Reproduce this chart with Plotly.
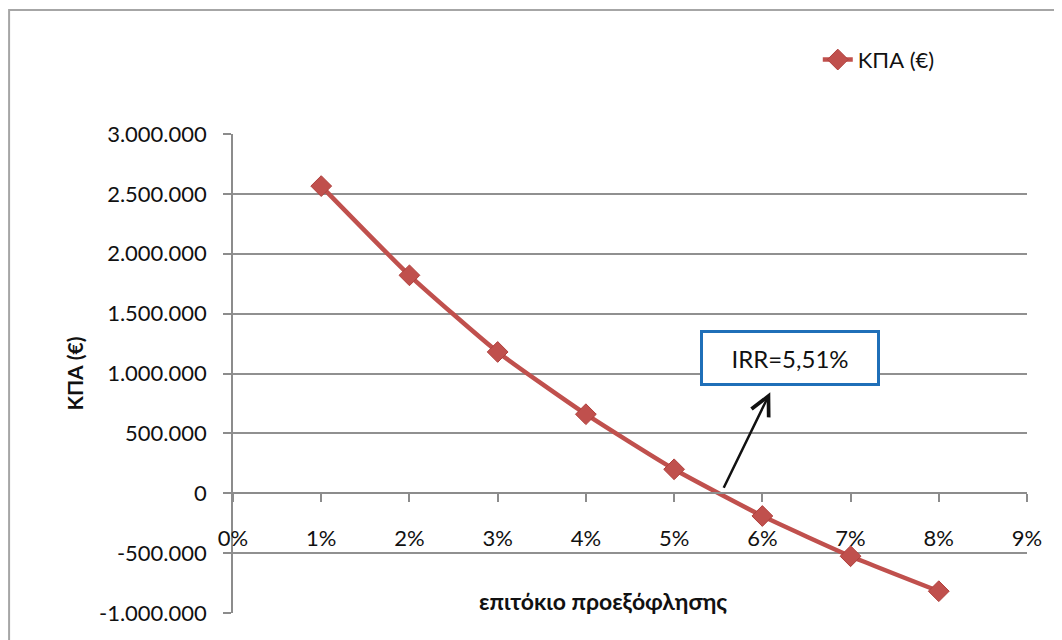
import plotly.graph_objects as go

rates = [0.01, 0.02, 0.03, 0.04, 0.05, 0.06, 0.07, 0.08]
npv = [2565000, 1820000, 1180000, 660000, 200000, -190000, -526000, -818000]

x_ticks = [0, 0.01, 0.02, 0.03, 0.04, 0.05, 0.06, 0.07, 0.08, 0.09]
y_ticks = [-1000000, -500000, 0, 500000, 1000000, 1500000, 2000000, 2500000, 3000000]
y_ticktext = ["-1.000.000", "-500.000", "0", "500.000", "1.000.000",
              "1.500.000", "2.000.000", "2.500.000", "3.000.000"]

series_name = "ΚΠΑ (€)"
x_title = "επιτόκιο προεξόφλησης"
y_title = "ΚΠΑ (€)"
irr_text = "IRR=5,51%"

FONT = "Lato, 'Noto Sans', sans-serif"
RED = "#C0504D"
GRAY = "#8C8C8C"
TXT = "#111111"

fig = go.Figure()
fig.add_trace(go.Scatter(
    x=rates, y=npv, name=series_name, mode="lines+markers",
    line=dict(color=RED, width=4.5, shape="spline", smoothing=0.5),
    marker=dict(symbol="diamond", size=16, color=RED,
                line=dict(color="#B0403D", width=1)),
))

fig.update_layout(
    width=1054, height=632,
    margin=dict(l=225, r=35, t=126, b=27),
    paper_bgcolor="white", plot_bgcolor="white",
    font=dict(family=FONT, size=22, color=TXT),
    showlegend=True,
    legend=dict(x=0.7365, y=1.155, xanchor="left", yanchor="middle",
                font=dict(size=22, color=TXT), bgcolor="rgba(0,0,0,0)"),
    xaxis=dict(range=[0, 0.09], tickvals=x_ticks, tickformat=".0%",
               anchor="free", position=0.25, showline=True, linecolor=GRAY,
               linewidth=1.5, ticks="outside", ticklen=8, tickcolor=GRAY,
               tickwidth=1.5, showgrid=False, zeroline=False,
               ticklabelstandoff=18, tickfont=dict(size=22)),
    yaxis=dict(range=[-1000000, 3000000], tickvals=y_ticks, ticktext=y_ticktext,
               showline=True, linecolor=GRAY, linewidth=1.5, ticks="outside",
               ticklen=8, tickcolor=GRAY, tickwidth=1.5, showgrid=True,
               gridcolor="#909090", gridwidth=1.5, zeroline=False,
               tickfont=dict(size=22), ticklabelstandoff=12),
)

# outer chart border
fig.add_shape(type="rect", xref="paper", yref="paper",
              x0=-0.282, x1=1.06, y0=-0.09, y1=1.259,
              line=dict(color="#A6A6A6", width=2), fillcolor="rgba(0,0,0,0)",
              layer="below")

# axis titles
fig.add_annotation(text="<b>" + y_title + "</b>", xref="paper", yref="paper",
                   x=-0.199, y=0.5, xanchor="center", yanchor="middle",
                   textangle=-90, showarrow=False,
                   font=dict(size=21, color=TXT))
fig.add_annotation(text="<b>" + x_title + "</b>", xref="paper", yref="paper",
                   x=0.466, y=0.025, xanchor="center", yanchor="middle",
                   showarrow=False, font=dict(size=23, color=TXT))

# arrow from curve to IRR box
fig.add_annotation(x=0.0609, y=843000, ax=0.05554, ay=33000,
                   xref="x", yref="y", axref="x", ayref="y",
                   text="", showarrow=True, arrowhead=5, arrowsize=1.5,
                   arrowwidth=2.5, arrowcolor="#111111")

# IRR box
fig.add_annotation(x=0.0631, y=1127000, xref="x", yref="y", text=irr_text,
                   xanchor="center", yanchor="middle",
                   showarrow=False, bgcolor="white", bordercolor="#1F6FB8",
                   borderwidth=3, borderpad=3, width=168, height=44,
                   align="center", font=dict(size=24, color=TXT))

fig.write_html("out.html")
